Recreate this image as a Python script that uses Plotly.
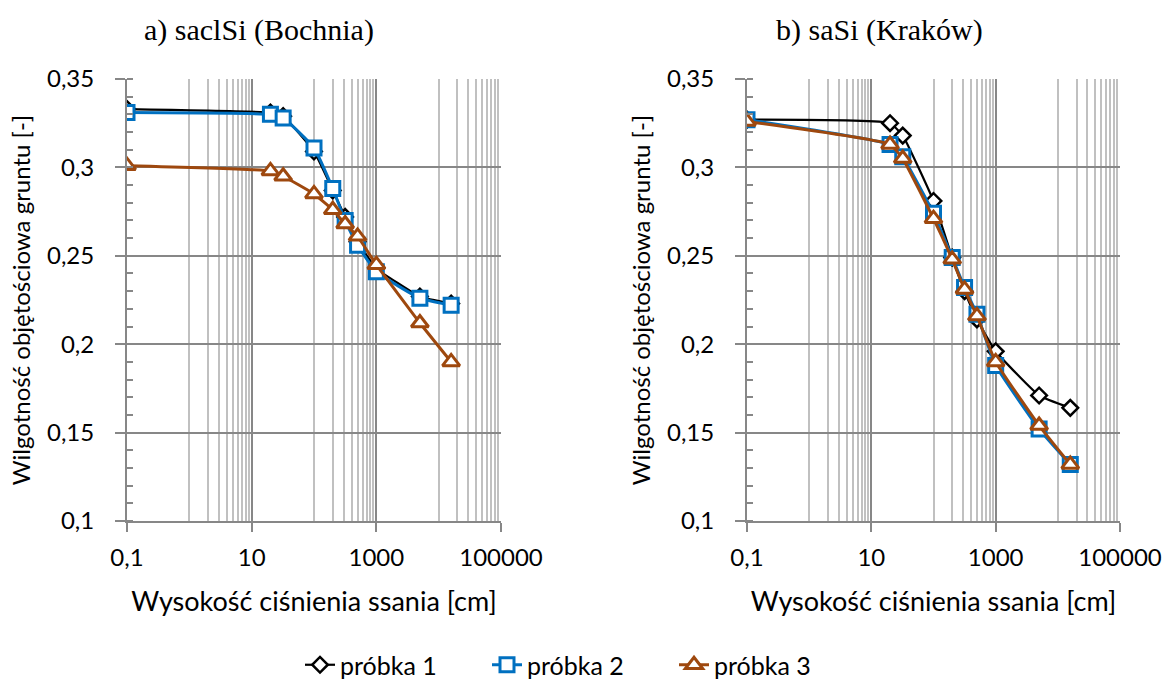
import plotly.graph_objects as go

# Suction head [cm]
suction = [0.1, 20, 32, 100, 200, 316, 500, 1000, 5000, 15850]

# a) saclSi (Bochnia)
a_p1 = [0.333, 0.331, 0.329, 0.309, 0.287, 0.272, 0.258, 0.243, 0.227, 0.223]
a_p2 = [0.331, 0.330, 0.328, 0.311, 0.288, 0.270, 0.256, 0.241, 0.226, 0.222]
a_p3 = [0.301, 0.298, 0.295, 0.285, 0.276, 0.268, 0.261, 0.245, 0.212, 0.190]

# b) saSi (Kraków)
b_p1 = [0.327, 0.325, 0.318, 0.281, 0.249, 0.230, 0.214, 0.196, 0.171, 0.164]
b_p2 = [0.327, 0.313, 0.306, 0.274, 0.249, 0.232, 0.217, 0.188, 0.152, 0.132]
b_p3 = [0.326, 0.313, 0.305, 0.271, 0.248, 0.231, 0.216, 0.190, 0.154, 0.132]

series_names = ["próbka 1", "próbka 2", "próbka 3"]
titles = ["a) saclSi (Bochnia)", "b) saSi (Kraków)"]
x_title = "Wysokość ciśnienia ssania [cm]"
y_title = "Wilgotność objętościowa gruntu [-]"
x_tickvals = [0.1, 10, 1000, 100000]
x_ticktext = ["0,1", "10", "1000", "100000"]
y_tickvals = [0.1, 0.15, 0.2, 0.25, 0.3, 0.35]
y_ticktext = ["0,1", "0,15", "0,2", "0,25", "0,3", "0,35"]
x_minor = [1, 2, 3, 4, 5, 6, 7, 8, 9,
           100, 200, 300, 400, 500, 600, 700, 800, 900,
           10000, 20000, 30000, 40000, 50000, 60000, 70000, 80000, 90000]

colors = ["#000000", "#0070C0", "#9E480E"]
symbols = ["diamond", "square", "triangle-up"]
sizes = [12, 14, 15]
mlw = [2.5, 3, 3]
lwidths = [2.2, 3, 3]

W, H = 1168, 693
FONT = "Lato"

fig = go.Figure()

panels = [
    (a_p1, a_p2, a_p3),
    (b_p1, b_p2, b_p3),
]
axes = [("x", "y"), ("x2", "y2")]

for pi, data in enumerate(panels):
    xa, ya = axes[pi]
    for si, vals in enumerate(data):
        fig.add_trace(go.Scatter(
            x=suction, y=vals, name=series_names[si],
            xaxis=xa, yaxis=ya,
            mode="lines+markers",
            line=dict(color=colors[si], width=lwidths[si], shape="spline", smoothing=0.4),
            marker=dict(symbol=symbols[si], size=sizes[si], color="white",
                        line=dict(color=colors[si], width=mlw[si])),
            showlegend=(pi == 0),
        ))

def px_x(p):
    return p / W

def px_y(p):
    return 1 - p / H

xdoms = [(127, 501), (747, 1120)]
ydom = [px_y(521), px_y(79)]

axis_gray = "#878787"
minor_gray = "#C0C0C0"

for i, (x0, x1) in enumerate(xdoms):
    sfx = "" if i == 0 else "2"
    fig.update_layout(**{
        "xaxis" + sfx: dict(
            type="log", range=[-1, 5], domain=[px_x(x0), px_x(x1)],
            anchor="y" + sfx, automargin=False,
            tickmode="array", tickvals=x_tickvals, ticktext=x_ticktext,
            ticks="outside", ticklen=9, tickwidth=2, tickcolor=axis_gray,
            ticklabelstandoff=5,
            showgrid=True, gridcolor=axis_gray, gridwidth=2,
            showline=True, linecolor=axis_gray, linewidth=2,
            zeroline=False,
            tickfont=dict(family=FONT, size=24, color="black"),
            title=dict(text=x_title, font=dict(family=FONT, size=27, color="black"), standoff=22),
            minor=dict(tickmode="array", tickvals=x_minor, showgrid=True,
                       gridcolor=minor_gray, gridwidth=1.5, ticks=""),
        ),
        "yaxis" + sfx: dict(
            range=[0.1, 0.35], domain=ydom, anchor="x" + sfx, automargin=False,
            tickmode="array", tickvals=y_tickvals, ticktext=y_ticktext,
            ticks="outside", ticklen=10, tickwidth=2, tickcolor=axis_gray,
            ticklabelstandoff=16,
            showgrid=True, gridcolor=axis_gray, gridwidth=2,
            showline=True, linecolor=axis_gray, linewidth=2,
            zeroline=False,
            tickfont=dict(family=FONT, size=24, color="black"),
            title=dict(text=y_title, font=dict(family=FONT, size=24, color="black"), standoff=10),
            minor=dict(dtick=0.01, ticks="inside", ticklen=6, tickwidth=1.5,
                       tickcolor=axis_gray, showgrid=False),
        ),
    })

title_x = [259, 879]
for i, t in enumerate(titles):
    fig.add_annotation(
        text=t, x=px_x(title_x[i]), y=px_y(30), xref="paper", yref="paper",
        xanchor="center", yanchor="middle", showarrow=False,
        font=dict(family="Liberation Serif", size=30, color="black"),
    )

fig.update_layout(
    width=W, height=H,
    margin=dict(l=0, r=0, t=0, b=0, autoexpand=False),
    paper_bgcolor="white", plot_bgcolor="white",
    legend=dict(orientation="h", x=px_x(300), y=px_y(665), xanchor="left", yanchor="middle",
                font=dict(family=FONT, size=25, color="black"),
                entrywidth=142, entrywidthmode="pixels",
                tracegroupgap=0),
    showlegend=True,
)

fig.write_html("out.html", config={"displayModeBar": False},
               post_script="document.body.style.margin='0';document.body.style.overflow='hidden';")
